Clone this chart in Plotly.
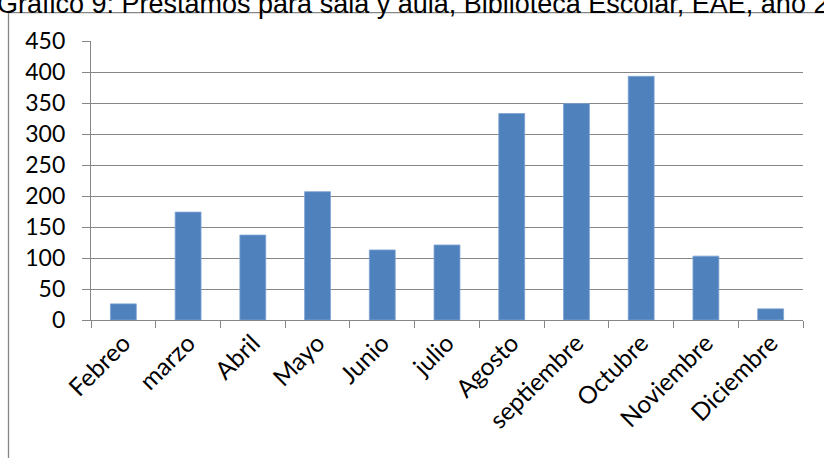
import plotly.graph_objects as go

months = ["Febreo", "marzo", "Abril", "Mayo", "Junio", "julio", "Agosto",
          "septiembre", "Octubre", "Noviembre", "Diciembre"]
prestamos = [26, 174, 137, 207, 113, 121, 333, 349, 393, 103, 18]
y_ticks = [0, 50, 100, 150, 200, 250, 300, 350, 400, 450]
title_text = "Gráfico 9: Préstamos para sala y aula, Biblioteca Escolar, EAE, año 20"

W, H = 824, 458
L, R, T, B = 91, 803, 41, 320
pw, ph = R - L, B - T

def px(x):
    return (x - L) / pw

def py(y):
    return (B - y) / ph

grid = "#868686"

fig = go.Figure(go.Bar(
    x=months, y=prestamos,
    marker=dict(color="#4F81BD", line=dict(color="#7EA3D3", width=0.8)),
))

fig.update_layout(
    width=W, height=H,
    margin=dict(l=L, r=W - R, t=T, b=H - B),
    paper_bgcolor="white", plot_bgcolor="white",
    showlegend=False, bargap=0.6,
    shapes=[dict(type="rect", xref="paper", yref="paper",
                 x0=px(8.5), x1=px(840), y0=py(12.7), y1=py(480),
                 line=dict(color=grid, width=1.3), fillcolor="rgba(0,0,0,0)", layer="below")],
    annotations=[dict(text=title_text, xref="paper", yref="paper",
                      x=px(-4), y=py(20), xanchor="left", yanchor="bottom",
                      showarrow=False, borderpad=0,
                      font=dict(family="Liberation Sans", size=27, color="#000000"))],
)

fig.update_xaxes(
    type="category", tickangle=-45,
    tickfont=dict(family="Lato", size=24.5, color="#000000"),
    showline=True, linecolor=grid, linewidth=1.3,
    ticks="outside", tickson="boundaries", ticklen=7, tickcolor=grid, tickwidth=1.3,
    showgrid=False, fixedrange=True, ticklabelstandoff=-2,
)
fig.update_yaxes(
    range=[0, 450], tickvals=y_ticks,
    tickfont=dict(family="Lato", size=23, color="#000000"),
    showline=True, linecolor=grid, linewidth=1.3,
    ticks="outside", ticklen=8, tickcolor=grid, tickwidth=1.3,
    showgrid=True, gridcolor=grid, gridwidth=1.3, zeroline=False,
    ticklabelstandoff=12, fixedrange=True,
)

fig.write_html("out.html", config={"displayModeBar": False},
               post_script="document.body.style.margin='0px';")
